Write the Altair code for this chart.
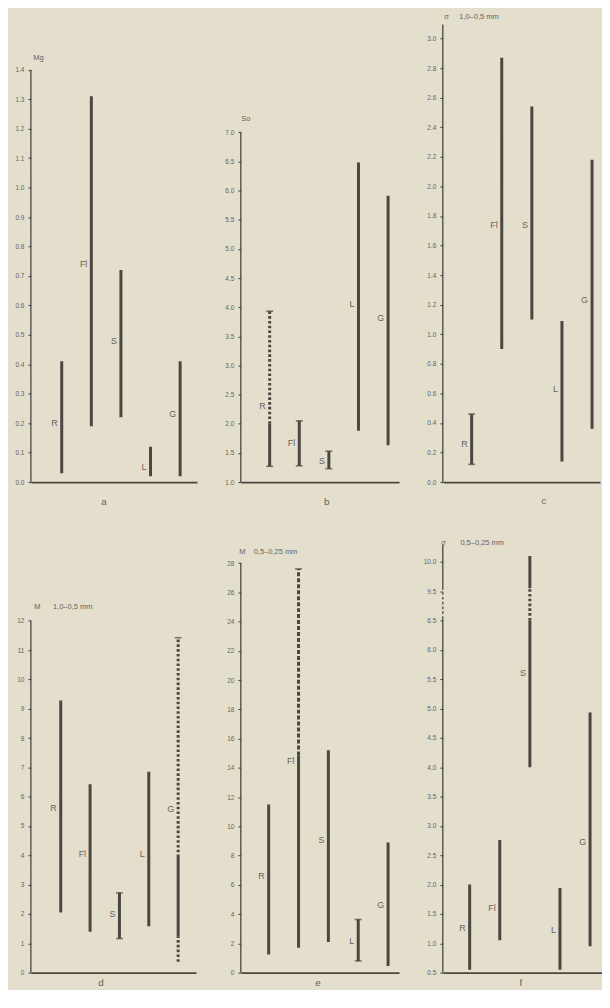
import altair as alt
import pandas as pd

cats = ["R", "Fl", "S", "L", "G"]

# ---- panel a : Mg
a_lo = [0.03, 0.19, 0.22, 0.02, 0.02]
a_hi = [0.41, 1.31, 0.72, 0.12, 0.41]
a_lab = [0.20, 0.74, 0.48, 0.05, 0.23]

# ---- panel b : So
b_lo = [1.27, 1.28, 1.23, 1.88, 1.63]
b_hi = [2.00, 2.05, 1.53, 6.48, 5.91]
b_lab = [2.31, 1.67, 1.36, 4.05, 3.81]
b_ext_cat = ["R"]
b_ext_lo = [2.00]
b_ext_hi = [3.93]
b_ext_style = ["dotted"]
b_cap_cat = ["R", "R", "Fl", "Fl", "S", "S"]
b_cap_val = [1.27, 3.93, 1.28, 2.05, 1.23, 1.53]

# ---- panel c : sigma 1,0-0,5 mm
c_lo = [0.12, 0.90, 1.10, 0.14, 0.36]
c_hi = [0.46, 2.87, 2.54, 1.09, 2.18]
c_lab = [0.26, 1.74, 1.74, 0.63, 1.23]
c_cap_cat = ["R", "R"]
c_cap_val = [0.12, 0.46]

# ---- panel d : M 1,0-0,5 mm
d_lo = [2.05, 1.39, 1.16, 1.58, 1.22]
d_hi = [9.28, 6.42, 2.72, 6.85, 3.94]
d_lab = [5.61, 4.05, 1.99, 4.03, 5.58]
d_ext_cat = ["G", "G"]
d_ext_lo = [3.94, 0.37]
d_ext_hi = [11.42, 1.22]
d_ext_style = ["dotted", "dotted"]
d_cap_cat = ["S", "S", "G"]
d_cap_val = [1.16, 2.72, 11.42]

# ---- panel e : M 0,5-0,25 mm
e_lo = [1.24, 1.70, 2.10, 0.80, 0.45]
e_hi = [11.5, 14.85, 15.2, 3.63, 8.89]
e_lab = [6.6, 14.5, 9.07, 2.16, 4.65]
e_ext_cat = ["Fl"]
e_ext_lo = [14.85]
e_ext_hi = [27.6]
e_ext_style = ["dashed"]
e_cap_cat = ["L", "L", "Fl"]
e_cap_val = [0.80, 3.63, 27.6]

# ---- panel f : sigma 0,5-0,25 mm (broken axis between 6.5 and 9.5)
f_lo = [0.55, 1.05, 4.00, 0.55, 0.95]
f_hi = [2.00, 2.76, 6.50, 1.94, 4.93]
f_lab = [1.26, 1.60, 5.60, 1.23, 2.73]
f_ext_cat = ["S", "S"]
f_ext_lo = [6.50, 9.55]
f_ext_hi = [9.55, 10.10]
f_ext_style = ["dotted", "solid"]

# tick values
a_ticks = [round(i * 0.1, 1) for i in range(15)]
b_ticks = [round(1 + i * 0.5, 1) for i in range(13)]
c_ticks = [round(i * 0.2, 1) for i in range(16)]
d_ticks = list(range(13))
e_ticks = list(range(0, 29, 2))
f_ticks = [round(0.5 + i * 0.5, 1) for i in range(15)]  # positions on broken axis

INK = "#4a4640"
TXT = "#67625a"
BG = "#e4dfcd"
FONT = "Liberation Sans"
NB = "\u00a0"


def panel(p):
    seg = {"cat": list(cats), "lo": list(p["lo"]), "hi": list(p["hi"]),
           "style": ["solid"] * len(cats)}
    for c_, l_, h_, s_ in zip(p.get("ext_cat", []), p.get("ext_lo", []),
                              p.get("ext_hi", []), p.get("ext_style", [])):
        seg["cat"].append(c_); seg["lo"].append(l_); seg["hi"].append(h_); seg["style"].append(s_)
    seg = pd.DataFrame(seg)
    labs = pd.DataFrame({"cat": cats, "v": p["lab"]})
    caps = pd.DataFrame({"cat": p.get("cap_cat", []), "v": p.get("cap_val", [])})
    axl = pd.DataFrame({"lo": p["axis_lo"], "hi": p["axis_hi"], "style": p["axis_style"]})

    def brk(f):
        if p.get("broken"):
            return f"datum.{f} >= 9.5 ? datum.{f} - 2.5 : datum.{f}"
        return f"datum.{f}"

    idx = "indexof(['R','Fl','S','L','G'], datum.cat)"
    W = p["width"]
    d0 = -p["off"] / p["step"]
    d1 = (W - p["off"]) / p["step"]
    xsc = alt.Scale(domain=[d0, d1], nice=False, zero=False)
    ysc = alt.Scale(domain=p["ydom"], nice=False, zero=False)

    ax_kw = dict(values=p["ticks"], domain=False, grid=False, tickSize=3,
                 tickColor=INK, tickWidth=1, labelPadding=4, labelFontSize=6.5,
                 labelColor=TXT, labelFont=FONT, labelOverlap=False,
                 title=p["ytitle"], titleAngle=0, titleAlign="left",
                 titleBaseline="middle", titleX=p["ytx"], titleY=p["yty"],
                 titleFontSize=7.5, titleFontWeight="normal", titleColor=TXT,
                 titleFont=FONT)
    if p.get("labelExpr"):
        ax_kw["labelExpr"] = p["labelExpr"]
    else:
        ax_kw["format"] = p["fmt"]
    yax = alt.Axis(**ax_kw)
    xax = alt.Axis(labels=False, ticks=False, grid=False, domain=True,
                   domainColor=INK, domainWidth=1.6, title=p["xtitle"],
                   titleX=p["xtx"], titleY=p["xty"], titleBaseline="middle",
                   titleAlign="center", titleFontSize=10, titleFontWeight="normal",
                   titleColor=TXT, titleFont=FONT)
    dash = alt.StrokeDash("style:N", legend=None,
                          scale=alt.Scale(domain=["solid", "dotted", "dashed"],
                                          range=[[1, 0], [2.6, 2.2], [4, 2]]))

    axis_line = alt.Chart(axl).transform_calculate(
        y1=brk("lo"), y2=brk("hi")
    ).mark_rule(color=INK, strokeWidth=1.3).encode(
        x=alt.value(0),
        y=alt.Y("y1:Q", scale=ysc, axis=yax),
        y2="y2:Q",
        strokeDash=dash,
    )
    bars = alt.Chart(seg).transform_calculate(
        i=idx, y1=brk("lo"), y2=brk("hi")
    ).mark_rule(color=INK, strokeWidth=3).encode(
        x=alt.X("i:Q", scale=xsc, axis=xax),
        y=alt.Y("y1:Q", scale=ysc, axis=yax),
        y2="y2:Q",
        strokeDash=dash,
    )
    text = alt.Chart(labs).transform_calculate(
        i=idx, y1=brk("v")
    ).mark_text(align="right", baseline="middle", dx=-4, fontSize=9,
                color=TXT, font=FONT).encode(
        x=alt.X("i:Q", scale=xsc, axis=xax),
        y=alt.Y("y1:Q", scale=ysc, axis=yax),
        text="cat:N",
    )
    layers = [axis_line, bars, text]
    if len(caps):
        capm = alt.Chart(caps).transform_calculate(
            i=idx, y1=brk("v")
        ).mark_tick(orient="horizontal", size=7, thickness=1.6, color=INK).encode(
            x=alt.X("i:Q", scale=xsc, axis=xax),
            y=alt.Y("y1:Q", scale=ysc, axis=yax),
        )
        layers.append(capm)
    return alt.layer(*layers).properties(width=W, height=p["height"])


H1 = 460
H2 = 430

pa = panel(dict(lo=a_lo, hi=a_hi, lab=a_lab, width=167, height=H1, off=31, step=29.75,
                ydom=[0, 1.554], ticks=a_ticks, fmt=".1f",
                axis_lo=[0], axis_hi=[1.4], axis_style=["solid"],
                ytitle="Mg", ytx=2, yty=33, xtitle="a", xtx=73, xty=20))
pb = panel(dict(lo=b_lo, hi=b_hi, lab=b_lab, ext_cat=b_ext_cat, ext_lo=b_ext_lo,
                ext_hi=b_ext_hi, ext_style=b_ext_style, cap_cat=b_cap_cat, cap_val=b_cap_val,
                width=159, height=H1, off=29, step=29.75,
                ydom=[1.0, 8.85], ticks=b_ticks, fmt=".1f",
                axis_lo=[1.0], axis_hi=[7.0], axis_style=["solid"],
                ytitle="So", ytx=0, yty=95, xtitle="b", xtx=86, xty=20))
pc = panel(dict(lo=c_lo, hi=c_hi, lab=c_lab, cap_cat=c_cap_cat, cap_val=c_cap_val,
                width=158, height=H1, off=29, step=30.25,
                ydom=[0, 3.096], ticks=c_ticks, fmt=".1f",
                axis_lo=[0], axis_hi=[3.096], axis_style=["solid"],
                ytitle="σ" + NB * 5 + "1,0–0,5 mm", ytx=1, yty=-8,
                xtitle="c", xtx=101, xty=19))
pd_ = panel(dict(lo=d_lo, hi=d_hi, lab=d_lab, ext_cat=d_ext_cat, ext_lo=d_ext_lo,
                 ext_hi=d_ext_hi, ext_style=d_ext_style, cap_cat=d_cap_cat, cap_val=d_cap_val,
                 width=166, height=H2, off=30, step=29.5,
                 ydom=[0, 14.59], ticks=d_ticks, fmt="d",
                 axis_lo=[0], axis_hi=[12], axis_style=["solid"],
                 ytitle="M" + NB * 6 + "1,0–0,5 mm", ytx=3, yty=62,
                 xtitle="d", xtx=70, xty=10))
pe = panel(dict(lo=e_lo, hi=e_hi, lab=e_lab, ext_cat=e_ext_cat, ext_lo=e_ext_lo,
                ext_hi=e_ext_hi, ext_style=e_ext_style, cap_cat=e_cap_cat, cap_val=e_cap_val,
                width=159, height=H2, off=28, step=30,
                ydom=[0, 29.25], ticks=e_ticks, fmt="d",
                axis_lo=[0], axis_hi=[28], axis_style=["solid"],
                ytitle="M" + NB * 4 + "0,5–0,25 mm", ytx=-2, yty=7,
                xtitle="e", xtx=77, xty=10))
pf = panel(dict(lo=f_lo, hi=f_hi, lab=f_lab, ext_cat=f_ext_cat, ext_lo=f_ext_lo,
                ext_hi=f_ext_hi, ext_style=f_ext_style, broken=True,
                width=160, height=H2, off=27, step=30.25,
                ydom=[0.5, 7.79], ticks=f_ticks,
                labelExpr="datum.value >= 7 ? format(datum.value + 2.5, '.1f') : format(datum.value, '.1f')",
                axis_lo=[0.5, 6.53, 9.53], axis_hi=[6.53, 9.53, 10.29],
                axis_style=["solid", "dotted", "solid"],
                ytitle="σ" + NB * 7 + "0,5–0,25 mm", ytx=-2, yty=-2,
                xtitle="f", xtx=78, xty=10))

chart = alt.concat(pa, pb, pc, pd_, pe, pf, columns=3,
                   spacing=alt.RowColnumber(row=63, column=44),
                   bounds="flush", align="each").properties(
    padding={"left": 6, "top": 2, "right": 0, "bottom": 0},
    background=BG,
).configure_view(stroke=None)

chart.save("out.html", embed_options={"renderer": "svg", "actions": False})
